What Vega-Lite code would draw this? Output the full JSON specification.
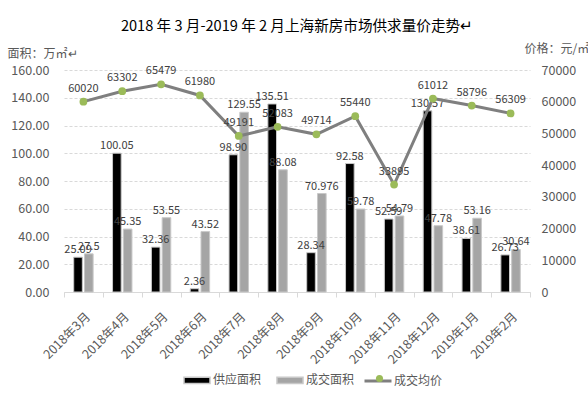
{
  "$schema": "https://vega.github.io/schema/vega-lite/v6.json",
  "autosize": {"type": "none"},
  "width": 466,
  "height": 222,
  "padding": {"left": 64, "top": 70, "right": 58, "bottom": 107},
  "background": "#ffffff",
  "title": {
    "text": "2018 年 3 月-2019 年 2 月上海新房市场供求量价走势↵",
    "fontSize": 14.6,
    "fontWeight": "normal",
    "color": "#000000",
    "font": "Noto Sans CJK SC",
    "anchor": "middle",
    "offset": 8
  },
  "datasets": {
    "bars": [
      {"month": "2018年3月", "series": "供应面积", "area": 25.09, "label": "25.09"},
      {"month": "2018年3月", "series": "成交面积", "area": 27.5, "label": "27.5"},
      {"month": "2018年4月", "series": "供应面积", "area": 100.05, "label": "100.05"},
      {"month": "2018年4月", "series": "成交面积", "area": 45.35, "label": "45.35"},
      {"month": "2018年5月", "series": "供应面积", "area": 32.36, "label": "32.36"},
      {"month": "2018年5月", "series": "成交面积", "area": 53.55, "label": "53.55"},
      {"month": "2018年6月", "series": "供应面积", "area": 2.36, "label": "2.36"},
      {"month": "2018年6月", "series": "成交面积", "area": 43.52, "label": "43.52"},
      {"month": "2018年7月", "series": "供应面积", "area": 98.9, "label": "98.90"},
      {"month": "2018年7月", "series": "成交面积", "area": 129.55, "label": "129.55"},
      {"month": "2018年8月", "series": "供应面积", "area": 135.51, "label": "135.51"},
      {"month": "2018年8月", "series": "成交面积", "area": 88.08, "label": "88.08"},
      {"month": "2018年9月", "series": "供应面积", "area": 28.34, "label": "28.34"},
      {"month": "2018年9月", "series": "成交面积", "area": 70.976, "label": "70.976"},
      {"month": "2018年10月", "series": "供应面积", "area": 92.58, "label": "92.58"},
      {"month": "2018年10月", "series": "成交面积", "area": 59.78, "label": "59.78"},
      {"month": "2018年11月", "series": "供应面积", "area": 52.59, "label": "52.59"},
      {"month": "2018年11月", "series": "成交面积", "area": 54.79, "label": "54.79"},
      {"month": "2018年12月", "series": "供应面积", "area": 130.57, "label": "130.57"},
      {"month": "2018年12月", "series": "成交面积", "area": 47.78, "label": "47.78"},
      {"month": "2019年1月", "series": "供应面积", "area": 38.61, "label": "38.61"},
      {"month": "2019年1月", "series": "成交面积", "area": 53.16, "label": "53.16"},
      {"month": "2019年2月", "series": "供应面积", "area": 26.73, "label": "26.73"},
      {"month": "2019年2月", "series": "成交面积", "area": 30.64, "label": "30.64"}
    ],
    "prices": [
      {"month": "2018年3月", "price": 60020},
      {"month": "2018年4月", "price": 63302},
      {"month": "2018年5月", "price": 65479},
      {"month": "2018年6月", "price": 61980},
      {"month": "2018年7月", "price": 49191},
      {"month": "2018年8月", "price": 52083},
      {"month": "2018年9月", "price": 49714},
      {"month": "2018年10月", "price": 55440},
      {"month": "2018年11月", "price": 33895},
      {"month": "2018年12月", "price": 61012},
      {"month": "2019年1月", "price": 58796},
      {"month": "2019年2月", "price": 56309}
    ]
  },
  "layer": [
    {
      "data": {"name": "bars"},
      "encoding": {
        "x": {
          "field": "month", "type": "nominal", "sort": null,
          "scale": {"paddingInner": 0, "paddingOuter": 0},
          "axis": {
            "title": null, "labelAngle": -45, "labelFontSize": 12.5, "labelColor": "#595959",
            "labelFont": "Noto Sans CJK SC", "domainColor": "#d9d9d9", "tickColor": "#d9d9d9",
            "tickBand": "extent", "tickSize": 5, "labelPadding": 13, "grid": false
          }
        },
        "xOffset": {
          "field": "series", "type": "nominal", "sort": ["供应面积", "成交面积"],
          "scale": {"domain": ["供应面积", "成交面积"], "paddingInner": 0.2, "paddingOuter": 0.9}
        },
        "y": {
          "field": "area", "type": "quantitative", "stack": null,
          "scale": {"domain": [0, 160]},
          "axis": {
            "values": [0, 20, 40, 60, 80, 100, 120, 140, 160], "format": ".2f",
            "domain": false, "ticks": false, "labelPadding": 15, "labelFontSize": 12.5,
            "labelColor": "#595959", "labelFont": "Noto Sans CJK SC",
            "grid": true, "gridColor": "#d9d9d9", "gridDash": [3, 2],
            "title": "面积：万㎡↵", "titleAngle": 0, "titleAlign": "left", "titleBaseline": "alphabetic",
            "titleX": -57, "titleY": -13, "titleFontSize": 12, "titleFontWeight": "normal",
            "titleColor": "#595959", "titleFont": "Noto Sans CJK SC"
          }
        }
      },
      "layer": [
        {
          "mark": {"type": "bar", "stroke": "#c8c8c8", "strokeWidth": 1},
          "encoding": {
            "color": {
              "field": "series", "type": "nominal",
              "scale": {"domain": ["供应面积", "成交面积"], "range": ["#000000", "#a5a5a5"]},
              "legend": {
                "orient": "none", "legendX": 119, "legendY": 296, "direction": "horizontal",
                "title": null, "symbolSize": 676, "symbolType": "M-1,-0.24H1V0.24H-1Z",
                "symbolOpacity": 1,
                "labelFontSize": 12, "labelColor": "#595959",
                "labelFont": "Noto Sans CJK SC", "columnPadding": 12, "labelOffset": 2
              }
            }
          }
        },
        {
          "mark": {"type": "text", "baseline": "bottom", "dy": -2, "fontSize": 11, "color": "#404040", "font": "Noto Sans CJK SC"},
          "encoding": {"text": {"field": "label", "type": "nominal"}}
        }
      ]
    },
    {
      "data": {"name": "prices"},
      "encoding": {
        "x": {"field": "month", "type": "nominal", "sort": null},
        "y": {
          "field": "price", "type": "quantitative",
          "scale": {"domain": [0, 70000]},
          "axis": {
            "orient": "right", "values": [0, 10000, 20000, 30000, 40000, 50000, 60000, 70000], "format": "d",
            "domain": false, "ticks": false, "grid": false, "labelPadding": 11, "labelFontSize": 12.5,
            "labelColor": "#595959", "labelFont": "Noto Sans CJK SC",
            "title": "价格：元/㎡", "titleAngle": 0, "titleAlign": "left", "titleBaseline": "alphabetic",
            "titleX": -6, "titleY": -18, "titleFontSize": 12, "titleFontWeight": "normal",
            "titleColor": "#595959", "titleFont": "Noto Sans CJK SC"
          }
        }
      },
      "layer": [
        {
          "mark": {"type": "line", "strokeWidth": 3},
          "encoding": {
            "stroke": {
              "datum": "成交均价", "type": "nominal",
              "scale": {"domain": ["成交均价"], "range": ["#7f7f7f"]},
              "legend": {
                "orient": "none", "legendX": 299, "legendY": 296, "direction": "horizontal",
                "title": null, "symbolType": "stroke", "symbolSize": 729, "symbolStrokeWidth": 3,
                "labelFontSize": 12, "labelColor": "#595959", "labelFont": "Noto Sans CJK SC",
                "labelOffset": 1
              }
            }
          }
        },
        {
          "mark": {"type": "point", "filled": true, "size": 60, "opacity": 1},
          "encoding": {
            "fill": {
              "datum": "marker", "type": "nominal",
              "scale": {"domain": ["marker"], "range": ["#9bbb59"]},
              "legend": {
                "orient": "none", "legendX": 310, "legendY": 303, "direction": "horizontal",
                "title": null, "symbolType": "circle", "symbolSize": 50, "symbolOpacity": 1,
                "symbolStrokeWidth": 0,
                "labelExpr": "''", "labelFontSize": 11
              }
            }
          }
        },
        {
          "mark": {"type": "text", "baseline": "bottom", "dy": -8, "fontSize": 11, "color": "#404040", "font": "Noto Sans CJK SC"},
          "encoding": {"text": {"field": "price", "type": "nominal"}}
        }
      ]
    }
  ],
  "resolve": {"scale": {"y": "independent"}},
  "config": {"view": {"stroke": null}}
}
